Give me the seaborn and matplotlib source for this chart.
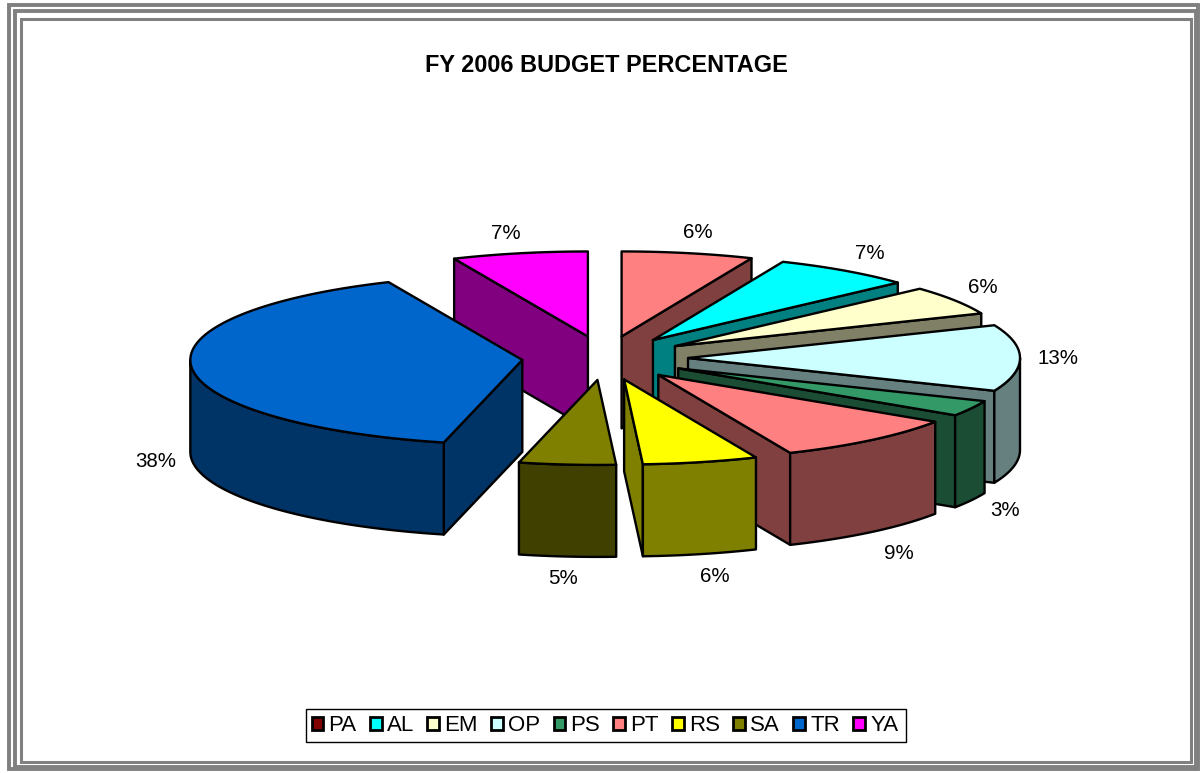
# Import required libraries
import numpy as np
import matplotlib
matplotlib.use("Agg")
import matplotlib.pyplot as plt
from matplotlib.patches import Patch, Polygon, Rectangle
import seaborn as sns

# Chart data
categories = ["PA", "AL", "EM", "OP", "PS", "PT", "RS", "SA", "TR", "YA"]
shares = [6.4, 6.8, 5.5, 12.6, 3.0, 9.2, 5.6, 4.7, 39.6, 6.6]
pct_labels = ["6%", "7%", "6%", "13%", "3%", "9%", "6%", "5%", "38%", "7%"]
legend_colors = ["#800000", "#00FFFF", "#FFFFCC", "#CCFFFF", "#339966",
                 "#FF8080", "#FFFF00", "#808000", "#0066CC", "#FF00FF"]
slice_colors = ["#FF8080", "#00FFFF", "#FFFFCC", "#CCFFFF", "#339966",
                "#FF8080", "#FFFF00", "#808000", "#0066CC", "#FF00FF"]
title = "FY 2006 BUDGET PERCENTAGE"

# Pie geometry in pixels
cx, cy = 605, 358
rx, ry = 332, 85
explode_x, explode_y = 83, 22
depth = 92
edge_lw = 1.7

# Small pixel nudges for the percentage labels
label_dx = [2, 2, -6, -2, -1, 2, 5, -1, 4, -6]
label_dy = [0, 0, -2, 1, -3, 2, -1, -2, -3, 1]

sns.set_theme(style="white")
plt.rcParams['font.family'] = ['Liberation Sans', 'DejaVu Sans']

fig = plt.figure(figsize=(12.02, 7.73), dpi=100)
ax = fig.add_axes([0, 0, 1, 1])
ax.set_xlim(0, 1202)
ax.set_ylim(773, 0)
ax.axis("off")

# Triple grey frame around the chart
for left, top, right, bottom, lw in [(9, 5, 1198, 769, 2.8), (15, 11, 1195.5, 766.5, 2.8), (21, 18.5, 1190.5, 761.5, 2.2)]:
    ax.add_patch(Rectangle((left, top), right - left, bottom - top, fill=False,
                           edgecolor="#808080", linewidth=lw, joinstyle="miter"))


def arc(x0, y0, start, end, steps=80):
    # Points on the ellipse, angles clockwise from 12 o'clock
    t = np.radians(np.linspace(start, end, steps))
    return np.column_stack([x0 + rx * np.sin(t), y0 - ry * np.cos(t)])


def face(points, color):
    ax.add_patch(Polygon(points, closed=True, facecolor=color, edgecolor="black",
                         linewidth=edge_lw, joinstyle="round"))


def wall(x0, y0, angle, color):
    outer = arc(x0, y0, angle, angle, 1)[0]
    face([(x0, y0), outer, outer + (0, depth), (x0, y0 + depth)], color)


# Turn the values into slice angles
bounds = np.cumsum([0] + shares) / sum(shares) * 360
palette = sns.color_palette(slice_colors)

slices = []
for i in range(len(shares)):
    start, end = bounds[i], bounds[i + 1]
    mid = np.radians((start + end) / 2)
    slices.append((start, end, mid, palette[i]))

# Painter's order, the back slices first
for start, end, mid, color in sorted(slices, key=lambda s: -np.cos(s[2])):
    x0 = cx + explode_x * np.sin(mid)
    y0 = cy - explode_y * np.cos(mid)
    dark = tuple(c / 2 for c in color)

    # Cut faces that turn towards the viewer
    if np.sin(np.radians(start)) < 0:
        wall(x0, y0, start, dark)
    if np.sin(np.radians(end)) > 0:
        wall(x0, y0, end, dark)

    # Outer rim, only the front half of the ellipse shows
    a, b = max(start, 90), min(end, 270)
    if b > a:
        rim = arc(x0, y0, a, b)
        face(np.vstack([rim, rim[::-1] + (0, depth)]), dark)

    # Top face
    face(np.vstack([[(x0, y0)], arc(x0, y0, start, end)]), color)

# Percentage labels just outside each slice
for i, (start, end, mid, color) in enumerate(slices):
    x0 = cx + explode_x * np.sin(mid)
    y0 = cy - explode_y * np.cos(mid)
    lx = x0 + (rx + 40) * np.sin(mid) + label_dx[i]
    ly = y0 - (ry + 21) * np.cos(mid) + label_dy[i]
    if np.cos(mid) < 0:
        ly += depth + 3
    ax.text(lx, ly, pct_labels[i], ha="center", va="center", fontsize=14.8, color="black")

ax.text(606, 65, title, ha="center", va="center", fontsize=16.9, fontweight="bold", color="black")

# Legend along the bottom
ax.add_patch(Rectangle((306, 709), 600, 33, facecolor="white", edgecolor="black", linewidth=1))
handles = [Patch(facecolor=c, edgecolor="black", linewidth=2) for c in legend_colors]
leg = ax.legend(handles, categories, ncol=len(categories), loc="center",
                bbox_to_anchor=(605, 725.5), bbox_transform=ax.transData,
                fontsize=16, frameon=False, handlelength=0.52, handleheight=0.52,
                handletextpad=0.24, columnspacing=0.6, borderpad=0, borderaxespad=0)
for t in leg.get_texts():
    t.set_color("black")

plt.savefig("out.png", dpi=100)
plt.close()
